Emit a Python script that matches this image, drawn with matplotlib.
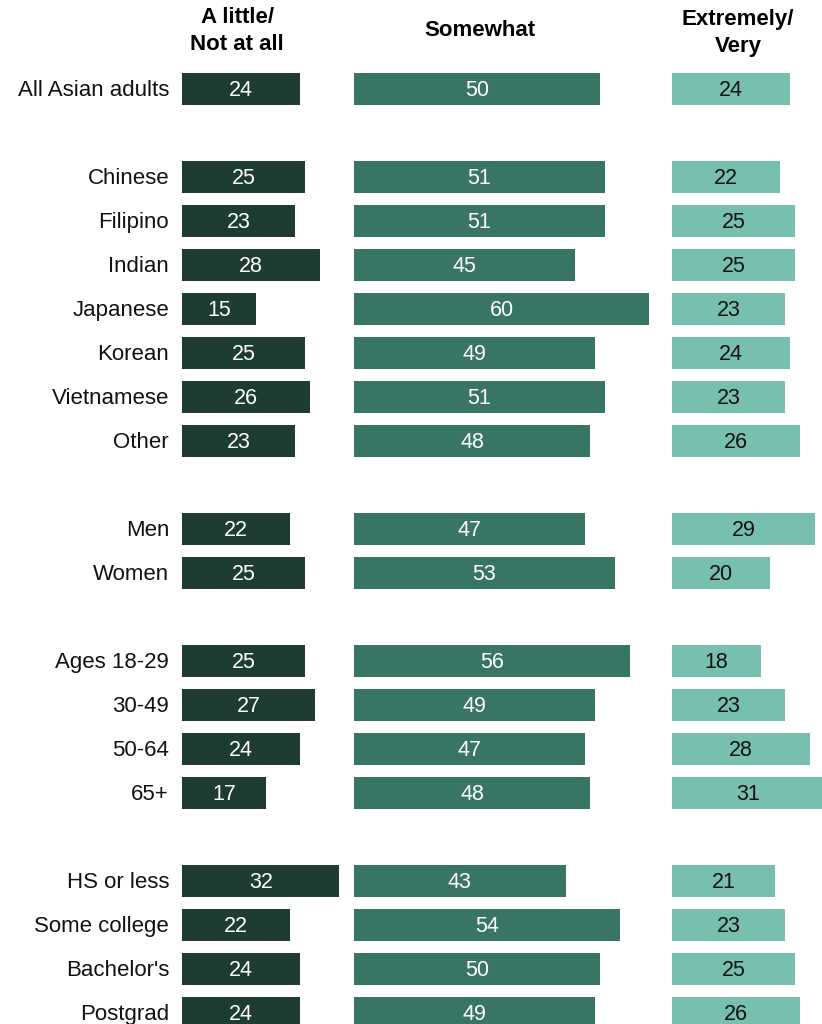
import matplotlib
matplotlib.use("Agg")
import matplotlib.pyplot as plt

plt.rcParams['font.family'] = ['Liberation Sans', 'DejaVu Sans']

categories = ["All Asian adults", "Chinese", "Filipino", "Indian", "Japanese", "Korean",
              "Vietnamese", "Other", "Men", "Women", "Ages 18-29", "30-49", "50-64", "65+",
              "HS or less", "Some college", "Bachelor's", "Postgrad"]
# row slot positions (blank slots separate groups)
positions = [0, 2, 3, 4, 5, 6, 7, 8, 10, 11, 13, 14, 15, 16, 18, 19, 20, 21]

little = [24, 25, 23, 28, 15, 25, 26, 23, 22, 25, 25, 27, 24, 17, 32, 22, 24, 24]
somewhat = [50, 51, 51, 45, 60, 49, 51, 48, 47, 53, 56, 49, 47, 48, 43, 54, 50, 49]
very = [24, 22, 25, 25, 23, 24, 23, 26, 29, 20, 18, 23, 28, 31, 21, 23, 25, 26]

headers = ["A little/\nNot at all", "Somewhat", "Extremely/\nVery"]
colors = ["#1f3c34", "#387565", "#77bfae"]
text_colors = ["white", "white", "#111111"]

W, H = 822, 1024
fig = plt.figure(figsize=(W / 100, H / 100), dpi=100)

px_per_unit = 4.92
top_slot = -89 / 44
bot_slot = (H - 89) / 44
dy = 0.04

panels = [(182, 170, little), (354, 310, somewhat), (672, 150, very)]
header_x = [237, 480, 738]
header_y = [31, 30, 33]

axes = []
for k, (left, width, vals) in enumerate(panels):
    ax = fig.add_axes([left / W, 0, width / W, 1])
    ax.set_xlim(0, width / px_per_unit)
    ax.set_ylim(bot_slot, top_slot)
    bars = ax.barh(positions, vals, height=0.72, color=colors[k], clip_on=False)
    for b, v in zip(bars, vals):
        ax.text(v / 2, b.get_y() + b.get_height() / 2 + dy, str(v), ha="center", va="center",
                color=text_colors[k], fontsize=15.5)
    ax.axis("off")
    axes.append(ax)
    fig.text(header_x[k] / W, 1 - header_y[k] / H, headers[k], ha="center", va="center",
             fontsize=16, fontweight="bold", linespacing=1.4, color="black")

ax0 = axes[0]
for cat, p in zip(categories, positions):
    ax0.text(-13 / px_per_unit, p + dy, cat, ha="right", va="center", fontsize=16,
             color="#111111")

fig.savefig("out.png", dpi=100)
